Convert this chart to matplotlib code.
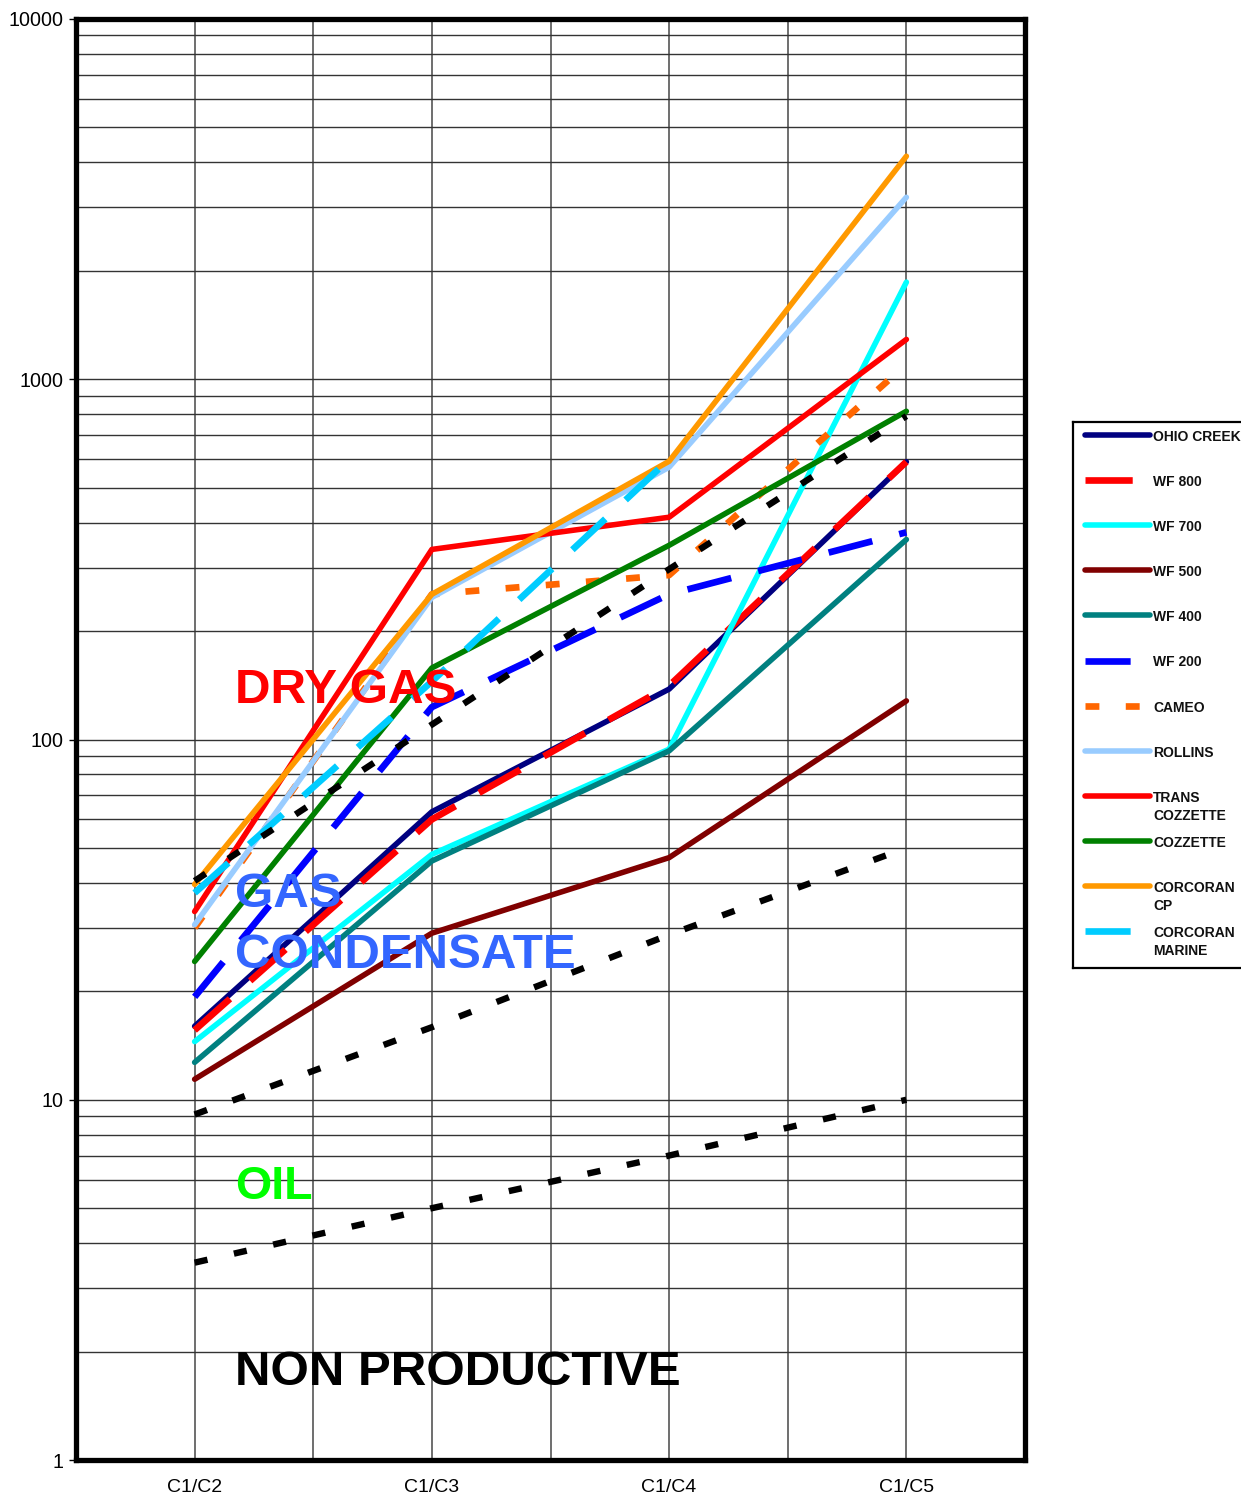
import matplotlib
matplotlib.use("Agg")
import matplotlib.pyplot as plt
import numpy as np
from matplotlib.ticker import FixedLocator, NullFormatter, LogLocator

plt.rcParams['font.family'] = ['Liberation Sans', 'DejaVu Sans']
plt.rcParams['lines.scale_dashes'] = False

categories = ["C1/C2", "C1/C3", "C1/C4", "C1/C5"]

series_names = ["OHIO CREEK", "WF 800", "WF 700", "WF 500", "WF 400", "WF 200",
                "CAMEO", "ROLLINS", "TRANS\nCOZZETTE", "COZZETTE",
                "CORCORAN\nCP", "CORCORAN\nMARINE"]

ohio_creek = [16.0, 63, 138, 590]
wf_800 = [15.6, 60, 141, 590]
wf_700 = [14.5, 48, 94, 1860]
wf_500 = [11.4, 29, 47, 128]
wf_400 = [12.7, 46, 93, 359]
wf_200 = [19.3, 123, 253, 376]
cameo = [30, 253, 286, 1100]
rollins = [30.6, 248, 570, 3200]
trans_cozzette = [33.3, 337, 414, 1290]
cozzette = [24.2, 158, 346, 815]
corcoran_cp = [39.6, 253, 592, 4160]
corcoran_marine = [37.5, 145, 600, np.nan]

boundary_dry_gas = [40.5, 110, 297, 790]
boundary_condensate = [9.1, 15.9, 28.7, 50]
boundary_oil = [3.53, 5.0, 7.0, 10.0]

series_values = [ohio_creek, wf_800, wf_700, wf_500, wf_400, wf_200, cameo,
                 rollins, trans_cozzette, cozzette, corcoran_cp, corcoran_marine]

# style: color, linewidth, dashes (None = solid)
styles = [
    ("#000080", 4.0, None),
    ("#FF0000", 4.8, (34, 19.5)),
    ("#00FFFF", 4.0, None),
    ("#800000", 4.0, None),
    ("#008080", 4.0, None),
    ("#0000FF", 4.8, (32.5, 20)),
    ("#FF6600", 4.8, (10, 19)),
    ("#99CCFF", 4.0, None),
    ("#FF0000", 4.0, None),
    ("#008000", 4.0, None),
    ("#FF9900", 4.0, None),
    ("#00CCFF", 4.8, (32.5, 20)),
]

W, H = 1241, 1501
fig = plt.figure(figsize=(W / 100, H / 100), dpi=100)
ax = fig.add_axes([76 / W, 1 - 1460 / H, (1025 - 76) / W, (1460 - 19) / H])

x = np.arange(1, len(categories) + 1)


def draw(axis, xs, ys, color, lw, dashes, z=3):
    kw = dict(color=color, lw=lw, zorder=z)
    if dashes is None:
        kw.update(solid_capstyle='round', solid_joinstyle='round')
        ln, = axis.plot(xs, ys, **kw)
    else:
        kw.update(dash_capstyle='butt')
        ln, = axis.plot(xs, ys, **kw)
        ln.set_dashes(dashes)
    return ln


for vals, (c, lw, d) in zip(series_values, styles):
    draw(ax, x, vals, c, lw, d)

for b in [boundary_dry_gas, boundary_condensate, boundary_oil]:
    draw(ax, x, b, "#000000", 4.6, (9.5, 19.5), z=3.5)

ax.set_yscale('log')
ax.set_ylim(1, 10000)
ax.set_xlim(0.5, 4.5)
ax.set_xticks(x)
ax.set_xticklabels(categories, fontsize=14)
ax.xaxis.set_minor_locator(FixedLocator([1.5, 2.5, 3.5]))
ax.yaxis.set_major_locator(FixedLocator([1, 10, 100, 1000, 10000]))
ax.set_yticklabels(["1", "10", "100", "1000", "10000"], fontsize=14.2)
ax.yaxis.set_minor_locator(LogLocator(base=10, subs=np.arange(2, 10), numticks=20))
ax.yaxis.set_minor_formatter(NullFormatter())
ax.tick_params(axis='x', which='both', length=0, pad=14)
ax.tick_params(axis='y', which='major', length=5, width=1, pad=4, direction='out')
ax.tick_params(axis='y', which='minor', length=0)
ax.grid(True, which='both', axis='y', color='#333333', lw=1.0, zorder=1)
ax.grid(True, which='both', axis='x', color='#555555', lw=1.2, zorder=1)
ax.set_axisbelow(True)
for s in ax.spines.values():
    s.set_linewidth(3.8)
    s.set_color('black')

# zone labels
tx = 1.17
ax.text(tx, 126, "DRY GAS", color="#FF0000", fontsize=35.5, fontweight='bold',
        va='baseline', ha='left', zorder=6)
ax.text(tx, 34.2, "GAS", color="#3366FF", fontsize=35.5, fontweight='bold',
        va='baseline', ha='left', zorder=6)
ax.text(tx, 23.2, "CONDENSATE", color="#3366FF", fontsize=35.5, fontweight='bold',
        va='baseline', ha='left', zorder=6)
ax.text(tx, 5.3, "OIL", color="#00FF00", fontsize=33.5, fontweight='bold',
        va='baseline', ha='left', zorder=6)
ax.text(tx, 1.62, "NON PRODUCTIVE", color="#000000", fontsize=35.5, fontweight='bold',
        va='baseline', ha='left', zorder=6)

# legend box (manual, uniform spacing like the original)
lx0, ly0, lx1, ly1 = 1073, 422, 1262, 968
lax = fig.add_axes([lx0 / W, 1 - ly1 / H, (lx1 - lx0) / W, (ly1 - ly0) / H])
lax.set_xlim(0, lx1 - lx0)
lax.set_ylim(ly1 - ly0, 0)
lax.set_xticks([])
lax.set_yticks([])
for s in lax.spines.values():
    s.set_linewidth(1.6)
    s.set_color('black')
for i, (name, (c, lw, d)) in enumerate(zip(series_names, styles)):
    yy = 13 + 45.1 * i
    draw(lax, [12, 77], [yy, yy], c, lw, d)
    for j, line in enumerate(name.split("\n")):
        lax.text(80, yy + 2 + 18 * j, line, fontsize=10, fontweight='bold',
                 va='center', ha='left', color='#111111')

fig.savefig("out.png", dpi=100)
